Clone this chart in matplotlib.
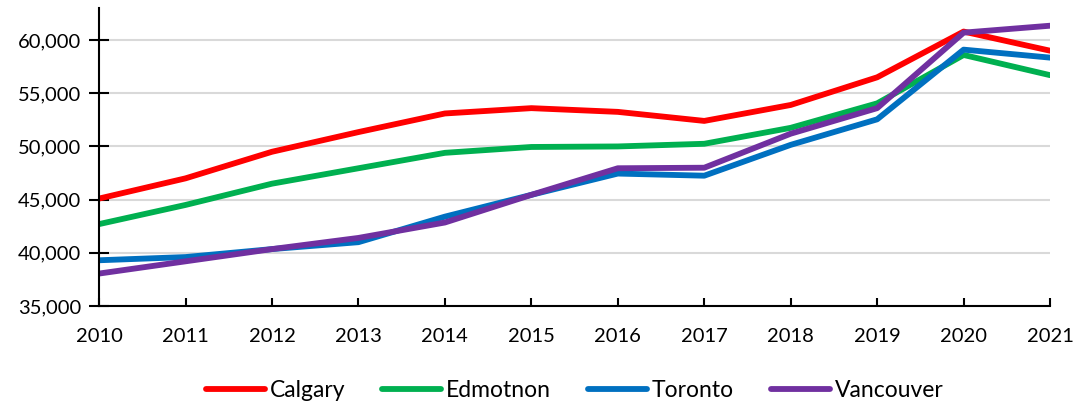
import matplotlib.pyplot as plt
from matplotlib.ticker import FuncFormatter

years = list(range(2010, 2022))
calgary = [45100, 47000, 49500, 51350, 53100, 53600, 53250, 52400, 53900, 56500, 60800, 59000]
edmonton = [42700, 44500, 46500, 47950, 49400, 49950, 50000, 50250, 51750, 54050, 58600, 56700]
toronto = [39300, 39600, 40350, 41000, 43400, 45450, 47450, 47250, 50150, 52550, 59100, 58350]
vancouver = [38050, 39200, 40350, 41400, 42850, 45450, 47950, 48000, 51200, 53600, 60700, 61350]

names = ['Calgary', 'Edmotnon', 'Toronto', 'Vancouver']
colors = ['#FF0000', '#00B050', '#0070C0', '#7030A0']

plt.rcParams['font.family'] = ['Lato', 'DejaVu Sans']

fig = plt.figure(figsize=(10.77, 4.08), dpi=100)
ax = fig.add_axes([0.092, 0.25, 0.883, 0.73])

for vals, name, c in zip([calgary, edmonton, toronto, vancouver], names, colors):
    ax.plot(years, vals, color=c, lw=4.2, label=name, solid_capstyle='round', solid_joinstyle='round')

ax.set_xlim(2010, 2021)
ax.set_ylim(35000, 63000)
ax.set_yticks(range(35000, 60001, 5000))
ax.set_xticks(years)
ax.yaxis.set_major_formatter(FuncFormatter(lambda v, p: '{:,.0f}'.format(v)))
ax.grid(axis='y', color='#d9d9d9', lw=1.5)
ax.set_axisbelow(True)

for s in ['top', 'right']:
    ax.spines[s].set_visible(False)
for s in ['left', 'bottom']:
    ax.spines[s].set_linewidth(1.5)

ax.tick_params(axis='y', direction='inout', length=14, width=1.5, labelsize=14.5, pad=6)
ax.tick_params(axis='x', direction='in', length=6, width=1.5, labelsize=14.5, pad=16)

ax.legend(loc='center', bbox_to_anchor=(0.5, -0.285), ncol=4, frameon=False,
          fontsize=16.5, handlelength=2.6, handletextpad=0.2, columnspacing=1.6)

fig.savefig('out.png', dpi=100)
